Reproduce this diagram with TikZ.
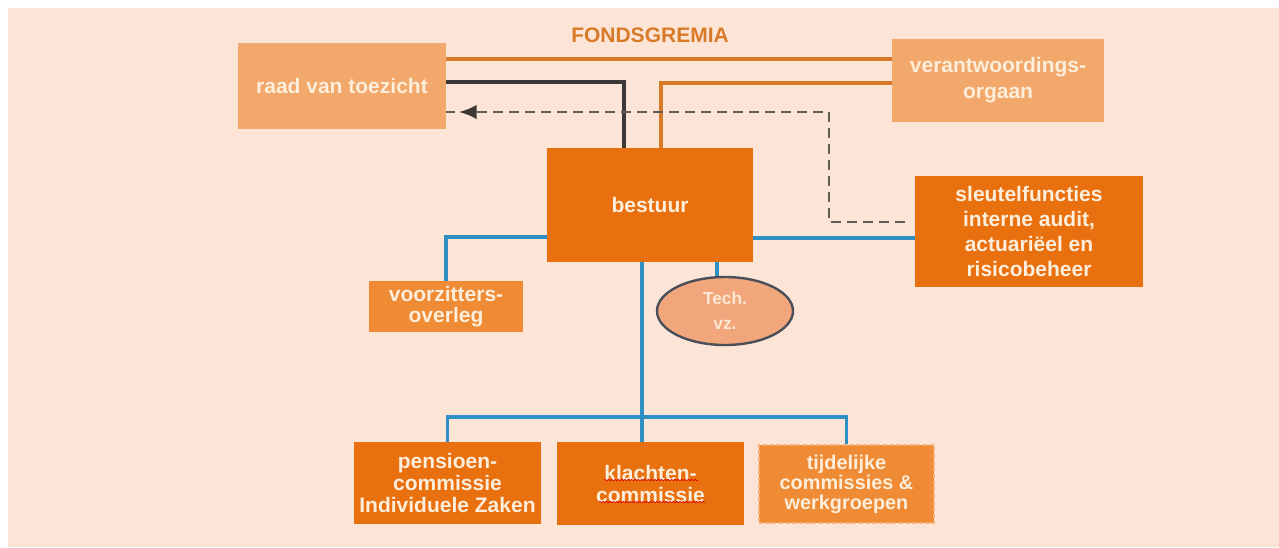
\documentclass[tikz,border=0pt]{standalone}
\usepackage{fontspec}
\setmainfont{Liberation Sans}
\usetikzlibrary{arrows.meta,decorations.markings,decorations.pathmorphing,shapes.geometric}
\definecolor{bg}{HTML}{FCE5D7}
\definecolor{lightor}{HTML}{F1A86A}
\definecolor{darkor}{HTML}{E9700E}
\definecolor{midor}{HTML}{EE8B34}
\definecolor{cream}{HTML}{FDEEDC}
\definecolor{lineor}{HTML}{D97A28}
\definecolor{darkline}{HTML}{3C3838}
\definecolor{dashgray}{HTML}{625C57}
\definecolor{blueline}{HTML}{2E8FC4}
\definecolor{ellfill}{HTML}{F2A67C}
\definecolor{elldraw}{HTML}{4B4F5A}
\definecolor{tijdborder}{HTML}{F6B075}
\begin{document}
\begin{tikzpicture}[x=0.75pt,y=-0.75pt,
  box/.style={inner sep=0pt, align=center, text=cream,
    font=\bfseries\fontsize{15.75}{16.5}\selectfont},
  orline/.style={draw=lineor, line width=2.4pt},
  darkl/.style={draw=darkline, line width=2.4pt},
  dashl/.style={draw=dashgray, line width=2pt, dash pattern=on 7pt off 5pt,
    postaction={decorate}, decoration={markings,
      mark=at position -9.75pt with {\arrow[darkline]{Latex[length=13pt,width=11pt]}}}},
  bl/.style={draw=blueline, line width=2.6pt},
  spell/.style={draw=red!85!black, line width=0.5pt, decorate,
    decoration={snake, amplitude=0.5pt, segment length=2.5pt}}]
\useasboundingbox (0,0) rectangle (1279,547);
\fill[white] (0,0) rectangle (1279,547);
\fill[bg] (8,8) rectangle (1279,547);

% nodes
\node[box, fill=lightor, minimum width=156pt, minimum height=64.5pt] (raad) at (342,86) {raad van toezicht};
\node[box, fill=lightor, minimum width=159pt, minimum height=62.25pt,
  font=\bfseries\fontsize{15.75}{19.5}\selectfont] (verant) at (998,80.5) {verantwoordings-\\orgaan};
\node[box, fill=darkor, minimum width=154.5pt, minimum height=85.5pt] (bestuur) at (650,205) {bestuur};
\node[box, fill=darkor, minimum width=171pt, minimum height=83.25pt,
  font=\bfseries\fontsize{15.75}{18.75}\selectfont] (sleutel) at (1029,231.5) {sleutelfuncties\\interne audit,\\actuariëel en\\risicobeheer};
\node[box, fill=midor, minimum width=115.5pt, minimum height=38.25pt,
  font=\bfseries\fontsize{15.75}{15.5}\selectfont] (voorz) at (446,306.5) {voorzitters-\\overleg};
\node[box, ellipse, fill=ellfill, draw=elldraw, line width=1.8pt,
  minimum width=102pt, minimum height=51pt, text=cream!90!ellfill,
  font=\bfseries\fontsize{13}{18.75}\selectfont] (tech) at (725,311) {Tech.\\vz.};
\node[box, fill=darkor, minimum width=140.25pt, minimum height=61.5pt] (pens) at (447.5,483) {pensioen-\\commissie\\Individuele Zaken};
\node[box, fill=darkor, minimum width=140.25pt, minimum height=62.25pt] (klachten) at (650.5,483.5) {klachten-\\commissie};
\node[box, fill=midor, draw=tijdborder, line width=0.9pt, dash pattern=on 3pt off 2pt,
  minimum width=131.25pt, minimum height=58.5pt,
  font=\bfseries\fontsize{14.9}{15}\selectfont] (tijd) at (846.5,484) {tijdelijke\\commissies \&\\werkgroepen};
\node[text=lineor, font=\bfseries\fontsize{15.75}{18}\selectfont] (title) at (650,35) {FONDSGREMIA};

% helper coordinates
\coordinate (yOr) at (0,59);
\coordinate (yDk) at (0,82);
\coordinate (xDk) at (624,0);
\coordinate (yOr2) at (0,83);
\coordinate (xOr2) at (661,0);
\coordinate (yDash) at (0,112);
\coordinate (xDash) at (829,0);
\coordinate (yDash2) at (0,222);
\coordinate (yBlL) at (0,237);
\coordinate (yBlR) at (0,238);
\coordinate (xMain) at (642,0);
\coordinate (xTech) at (717,0);
\coordinate (yBus) at (0,417);

% connectors
\draw[orline] (raad.east |- yOr) -- (verant.west |- yOr);
\draw[darkl] (raad.east |- yDk) -| (bestuur.north -| xDk);
\draw[orline] (verant.west |- yOr2) -| (bestuur.north -| xOr2);
\draw[dashl, shorten <=7.5pt] (sleutel.west |- yDash2) -| (xDash |- yDash) -- (raad.east |- yDash);
\draw[bl] (bestuur.west |- yBlL) -| (voorz.north);
\draw[bl] (bestuur.east |- yBlR) -- (sleutel.west |- yBlR);
\draw[bl] (bestuur.south -| xMain) -- (klachten.north -| xMain);
\draw[bl] (bestuur.south -| xTech) -- (tech.north -| xTech);
\draw[bl] (pens.north) |- (tijd.north |- yBus) -- (tijd.north);

% spell-check underlines
\draw[spell] ([xshift=-34.9pt,yshift=2.6pt]klachten.center) -- ([xshift=35.6pt,yshift=2.6pt]klachten.center);
\draw[spell] ([xshift=-38.6pt,yshift=-13.9pt]klachten.center) -- ([xshift=40.9pt,yshift=-13.9pt]klachten.center);
\end{tikzpicture}
\end{document}
